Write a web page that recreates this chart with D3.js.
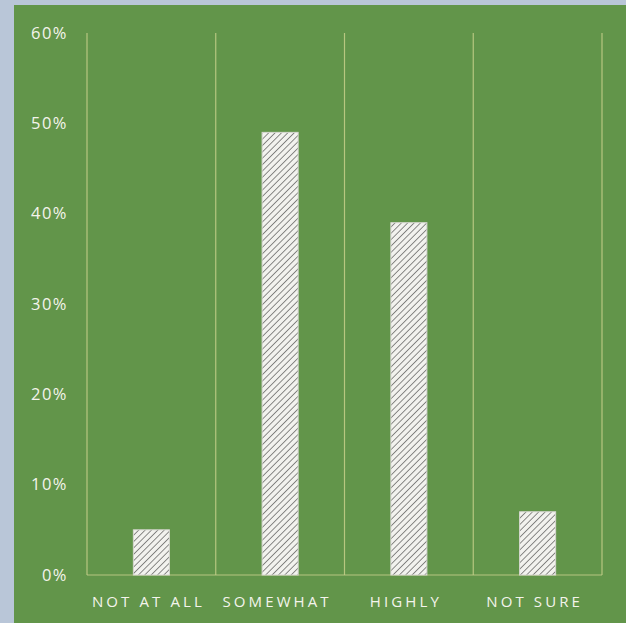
<!DOCTYPE html>
<html><head><meta charset="utf-8">
<script src="https://cdn.jsdelivr.net/npm/d3@7"></script>
<style>html,body{margin:0;padding:0;background:#b9c6d8;}svg{display:block;}</style>
</head><body>
<script>
const categories = ["NOT AT ALL", "SOMEWHAT", "HIGHLY", "NOT SURE"];
const values = [0.05, 0.49, 0.39, 0.07];
const yTicks = [0, 0.1, 0.2, 0.3, 0.4, 0.5, 0.6];

const W = 626, H = 623;
const svg = d3.select("body").append("svg").attr("width", W).attr("height", H);

svg.append("rect").attr("x", 0).attr("y", 0).attr("width", W).attr("height", H).attr("fill", "#b9c6d8");
svg.append("rect").attr("x", 14).attr("y", 5).attr("width", W - 14).attr("height", H - 5).attr("fill", "#62954a");

const defs = svg.append("defs");
const pat = defs.append("pattern").attr("id", "hatch").attr("patternUnits", "userSpaceOnUse")
  .attr("width", 4.5).attr("height", 4.5).attr("patternTransform", "rotate(45)");
pat.append("rect").attr("width", 4.5).attr("height", 4.5).attr("fill", "#f2f2ee");
pat.append("line").attr("x1", 0).attr("y1", 0).attr("x2", 0).attr("y2", 4.5)
  .attr("stroke", "#7e7e7c").attr("stroke-width", 1.8);

const x = d3.scaleBand().domain(categories).range([87, 602]).paddingInner(0.72).paddingOuter(0.36);
const xg = d3.scaleBand().domain(categories).range([87, 602]);
const y = d3.scaleLinear().domain([0, 0.6]).range([575, 33]);

const gridColor = "#c6d08a";
const edges = categories.map(c => xg(c)).concat([602]);
svg.append("g").selectAll("line").data(edges).join("line")
  .attr("x1", d => d).attr("x2", d => d).attr("y1", y(0.6)).attr("y2", y(0))
  .attr("stroke", gridColor).attr("stroke-width", 1.2).attr("opacity", 0.85);
svg.append("line").attr("x1", 87).attr("x2", 602).attr("y1", y(0)).attr("y2", y(0))
  .attr("stroke", gridColor).attr("stroke-width", 1.2).attr("opacity", 0.85);

const yAxis = d3.axisLeft(y).tickValues(yTicks).tickFormat(d3.format(".0%")).tickSize(0).tickPadding(0);
const ya = svg.append("g").attr("transform", "translate(68,0)").call(yAxis);
ya.select(".domain").remove();
ya.selectAll("text").attr("fill", "#f4f4ec").attr("font-family", "'Open Sans', sans-serif")
  .attr("font-size", 16.5).attr("letter-spacing", "1.5px");

svg.append("g").selectAll("rect").data(values).join("rect")
  .attr("x", (d, i) => x(categories[i]))
  .attr("y", d => y(d))
  .attr("width", x.bandwidth())
  .attr("height", d => y(0) - y(d))
  .attr("fill", "url(#hatch)")
  .attr("stroke", "#d8d8d2").attr("stroke-width", 1);

const xAxis = d3.axisBottom(xg).tickSize(0).tickPadding(0);
const xa = svg.append("g").attr("transform", "translate(-3,596)").call(xAxis);
xa.select(".domain").remove();
xa.selectAll("text").attr("fill", "#f4f4ec").attr("font-family", "'Open Sans', sans-serif")
  .attr("font-size", 15).attr("letter-spacing", "3.1px").attr("dy", "0.71em");
</script>
</body></html>
